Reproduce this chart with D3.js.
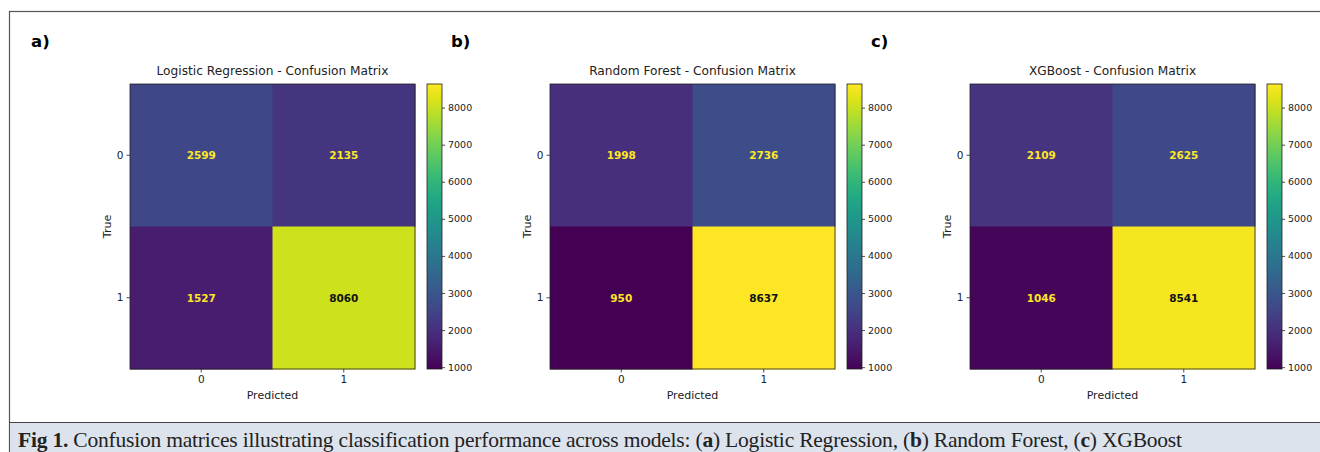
<!DOCTYPE html>
<html>
<head>
<meta charset="utf-8">
<script src="https://cdn.jsdelivr.net/npm/d3@7"></script>
<style>
  html, body { margin: 0; padding: 0; background: #fff; }
  svg { display: block; }
</style>
</head>
<body>
<svg id="fig" width="1320" height="452"></svg>
<script>
'use strict';

// ── Data ───────────────────────────────────────────────────────────────────
const MODELS       = ['Logistic Regression', 'Random Forest', 'XGBoost'];
const PANEL_LABELS = ['a)', 'b)', 'c)'];
const CLASSES      = ['0', '1'];
// rows = true class, cols = predicted class
const LR_MATRIX  = [[2599, 2135], [1527, 8060]];
const RF_MATRIX  = [[1998, 2736], [950, 8637]];
const XGB_MATRIX = [[2109, 2625], [1046, 8541]];
const MATRICES   = [LR_MATRIX, RF_MATRIX, XGB_MATRIX];
const CBAR_TICKS = [1000, 2000, 3000, 4000, 5000, 6000, 7000, 8000];

// shared colour range across the three panels
const allVals = MATRICES.flat(2);
const [vMin, vMax] = d3.extent(allVals);
const thresh = (vMin + vMax) / 2;

const svg = d3.select('#fig');
const FONT = 'DejaVu Sans, sans-serif';

// ── Frame + caption ────────────────────────────────────────────────────────
svg.append('rect')
  .attr('x', 9.5).attr('y', 11.5).attr('width', 1330).attr('height', 450)
  .attr('fill', '#fff').attr('stroke', '#555').attr('stroke-width', 1.2);

svg.append('rect')
  .attr('x', 10).attr('y', 422.5).attr('width', 1320).attr('height', 40)
  .attr('fill', '#dde3ec');
svg.append('line')
  .attr('x1', 9).attr('x2', 1320).attr('y1', 422.5).attr('y2', 422.5)
  .attr('stroke', '#444').attr('stroke-width', 1.2);

const cap = svg.append('text')
  .attr('x', 18).attr('y', 447)
  .attr('font-family', 'Liberation Serif, DejaVu Serif, serif')
  .attr('font-size', 21.5)
  .attr('fill', '#222')
  .attr('textLength', 1164).attr('lengthAdjust', 'spacing');
[
  ['Fig 1.', true],
  [' Confusion matrices illustrating classification performance across models: (', false],
  ['a', true], [') Logistic Regression, (', false],
  ['b', true], [') Random Forest, (', false],
  ['c', true], [') XGBoost', false],
].forEach(([t, b]) => cap.append('tspan').attr('font-weight', b ? 'bold' : 'normal').text(t));

// ── Colour gradient for colourbars ─────────────────────────────────────────
const defs = svg.append('defs');
const grad = defs.append('linearGradient')
  .attr('id', 'viridis').attr('x1', 0).attr('x2', 0).attr('y1', 1).attr('y2', 0);
d3.range(0, 1.0001, 0.05).forEach(t => {
  grad.append('stop').attr('offset', t).attr('stop-color', d3.interpolateViridis(t));
});

const color = d3.scaleSequential(d3.interpolateViridis).domain([vMin, vMax]);

// ── Panels ─────────────────────────────────────────────────────────────────
const PANEL_DX = 420;
const HM = { left: 130, top: 84, size: 285 };

MATRICES.forEach((mat, i) => drawPanel(mat, i));

function drawPanel(mat, i) {
  const g = svg.append('g').attr('transform', `translate(${i * PANEL_DX},0)`);

  g.append('text')
    .attr('x', 31).attr('y', 47)
    .attr('font-family', FONT).attr('font-weight', 'bold').attr('font-size', 16.5)
    .text(PANEL_LABELS[i]);

  const x = d3.scaleBand().domain(CLASSES).range([HM.left, HM.left + HM.size]);
  const y = d3.scaleBand().domain(CLASSES).range([HM.top, HM.top + HM.size]);

  const cells = [];
  mat.forEach((row, r) => row.forEach((v, c) => cells.push({ r: CLASSES[r], c: CLASSES[c], v })));

  g.selectAll('rect.cell')
    .data(cells)
    .join('rect')
    .attr('class', 'cell')
    .attr('x', d => x(d.c)).attr('y', d => y(d.r))
    .attr('width', x.bandwidth() + 0.5).attr('height', y.bandwidth() + 0.5)
    .attr('fill', d => color(d.v));

  g.selectAll('text.val')
    .data(cells)
    .join('text')
    .attr('class', 'val')
    .attr('x', d => x(d.c) + x.bandwidth() / 2)
    .attr('y', d => y(d.r) + y.bandwidth() / 2)
    .attr('text-anchor', 'middle').attr('dominant-baseline', 'central')
    .attr('font-family', FONT).attr('font-weight', 'bold').attr('font-size', 10.5)
    .attr('fill', d => d.v < thresh ? '#fde725' : '#111')
    .text(d => d.v);

  g.append('rect')
    .attr('x', HM.left).attr('y', HM.top).attr('width', HM.size).attr('height', HM.size)
    .attr('fill', 'none').attr('stroke', '#222').attr('stroke-width', 0.8);

  // axes
  const axX = g.append('g').attr('transform', `translate(0,${HM.top + HM.size})`)
    .call(d3.axisBottom(x).tickSize(3.5).tickPadding(3));
  const axY = g.append('g').attr('transform', `translate(${HM.left},0)`)
    .call(d3.axisLeft(y).tickSize(3.5).tickPadding(3));
  [axX, axY].forEach(ax => {
    ax.select('.domain').remove();
    ax.selectAll('line').attr('stroke', '#222').attr('stroke-width', 0.8);
    ax.selectAll('text').attr('font-family', FONT).attr('font-size', 10.5).attr('fill', '#222');
  });

  g.append('text')
    .attr('x', HM.left + HM.size / 2).attr('y', 399)
    .attr('text-anchor', 'middle')
    .attr('font-family', FONT).attr('font-size', 11).attr('fill', '#222')
    .text('Predicted');

  g.append('text')
    .attr('transform', `translate(111,${HM.top + HM.size / 2}) rotate(-90)`)
    .attr('text-anchor', 'middle')
    .attr('font-family', FONT).attr('font-size', 11).attr('fill', '#222')
    .text('True');

  g.append('text')
    .attr('x', HM.left + HM.size / 2).attr('y', 75)
    .attr('text-anchor', 'middle')
    .attr('font-family', FONT).attr('font-size', 12.2).attr('fill', '#222')
    .text(`${MODELS[i]} - Confusion Matrix`);

  // colourbar
  const cbX = 427, cbW = 15;
  const cy = d3.scaleLinear().domain([vMin, vMax]).range([HM.top + HM.size, HM.top]);
  g.append('rect')
    .attr('x', cbX).attr('y', HM.top).attr('width', cbW).attr('height', HM.size)
    .attr('fill', 'url(#viridis)').attr('stroke', '#222').attr('stroke-width', 0.8);
  const axC = g.append('g').attr('transform', `translate(${cbX + cbW},0)`)
    .call(d3.axisRight(cy).tickValues(CBAR_TICKS).tickFormat(d3.format('d')).tickSize(3).tickPadding(3));
  axC.select('.domain').remove();
  axC.selectAll('line').attr('stroke', '#222').attr('stroke-width', 0.8);
  axC.selectAll('text').attr('font-family', FONT).attr('font-size', 9.5).attr('fill', '#222');
}
</script>
</body>
</html>
